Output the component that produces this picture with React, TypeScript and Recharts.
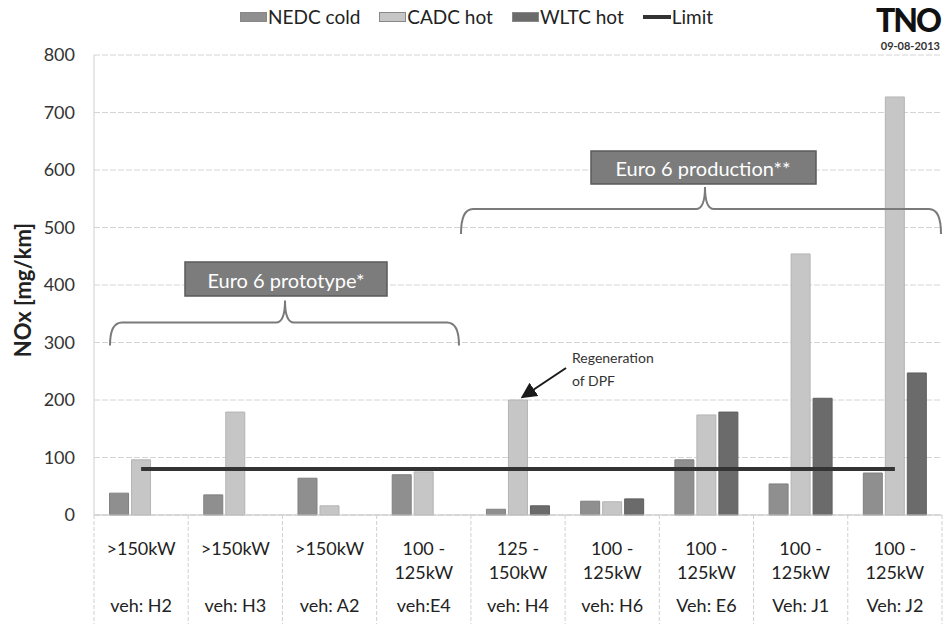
import React from "react";
import {
  Bar,
  CartesianGrid,
  ComposedChart,
  Line,
  XAxis,
  YAxis,
} from "recharts";

const categories = ["H2", "H3", "A2", "E4", "H4", "H6", "E6", "J1", "J2"];
const powerTop = [">150kW", ">150kW", ">150kW", "100 -", "125 -", "100 -", "100 -", "100 -", "100 -"];
const powerBottom = ["", "", "", "125kW", "150kW", "125kW", "125kW", "125kW", "125kW"];
const vehicleLabels = ["veh: H2", "veh: H3", "veh: A2", "veh:E4", "veh: H4", "veh: H6", "Veh: E6", "Veh: J1", "Veh: J2"];

const nedcCold = [38, 35, 64, 70, 10, 24, 96, 54, 73];
const cadcHot = [96, 179, 16, 75, 200, 23, 174, 454, 727];
const wltcHot: (number | null)[] = [null, null, null, null, 16, 28, 179, 203, 247];
const limitValue = [80, 80, 80, 80, 80, 80, 80, 80, 80];

const yTicks = [0, 100, 200, 300, 400, 500, 600, 700, 800];

const FONT = "Lato, 'Open Sans', sans-serif";
const W = 943;
const H = 624;
const PLOT_LEFT = 94;
const PLOT_RIGHT = 942;
const PLOT_TOP = 55;
const PLOT_BOTTOM = 515;
const Y_MAX = 800;
const BAND = (PLOT_RIGHT - PLOT_LEFT) / categories.length;

const COLORS = {
  nedc: "#8f8f8f",
  cadc: "#c6c6c6",
  wltc: "#6b6b6b",
  limit: "#333333",
};

const data = categories.map((c, i) => ({
  cat: c,
  nedc: nedcCold[i],
  cadc: cadcHot[i],
  wltc: wltcHot[i],
  limit: limitValue[i],
}));

// value -> pixel, for the annotation overlay only
const yOf = (v: number) => PLOT_BOTTOM - (v / Y_MAX) * (PLOT_BOTTOM - PLOT_TOP);

function CategoryTick(props: any) {
  const { x, payload } = props;
  const i = payload.index;
  const left = x - BAND / 2;
  const right = x + BAND / 2;
  return (
    <g fontFamily={FONT} fontSize={18} fill="#222">
      <line x1={left} x2={left} y1={PLOT_BOTTOM} y2={H} stroke="#d0d0d0" strokeDasharray="4 2" />
      {i === categories.length - 1 && (
        <line x1={right} x2={right} y1={PLOT_BOTTOM} y2={H} stroke="#d0d0d0" strokeDasharray="4 2" />
      )}
      <text x={x} y={548} textAnchor="middle" dominantBaseline="central" fill="#222">
        {powerTop[i]}
      </text>
      {powerBottom[i] && (
        <text x={x} y={572} textAnchor="middle" dominantBaseline="central" fill="#222">
          {powerBottom[i]}
        </text>
      )}
      <text x={x} y={605} textAnchor="middle" dominantBaseline="central" fill="#222">
        {vehicleLabels[i]}
      </text>
    </g>
  );
}

const legendItems = [
  { label: "NEDC cold", color: COLORS.nedc, kind: "bar" },
  { label: "CADC hot", color: COLORS.cadc, kind: "bar" },
  { label: "WLTC hot", color: COLORS.wltc, kind: "bar" },
  { label: "Limit", color: COLORS.limit, kind: "line" },
];

function Legend() {
  return (
    <div
      style={{
        position: "absolute",
        left: 240,
        top: 5,
        display: "flex",
        alignItems: "center",
        gap: 19,
        fontFamily: FONT,
        fontSize: 19,
        color: "#222",
      }}
    >
      {legendItems.map((it) => (
        <div key={it.label} style={{ display: "flex", alignItems: "center" }}>
          {it.kind === "bar" ? (
            <span style={{ width: 27, height: 10, background: it.color, border: "1px solid #888", boxSizing: "border-box" }} />
          ) : (
            <span style={{ width: 28, height: 4, background: it.color }} />
          )}
          <span style={{ marginLeft: 1 }}>{it.label}</span>
        </div>
      ))}
    </div>
  );
}

function Annotations() {
  const protoY = yOf(335);
  const prodY = yOf(532);
  return (
    <svg width={W} height={H} style={{ position: "absolute", left: 0, top: 0, pointerEvents: "none" }}>
      <defs>
        <marker id="arrow" markerWidth="8" markerHeight="8" refX="6" refY="4" orient="auto">
          <path d="M0,0 L8,4 L0,8 z" fill="#1a1a1a" />
        </marker>
      </defs>
      {/* prototype bracket */}
      <path
        d={`M110,${protoY + 23} Q110,${protoY} 122,${protoY} L276,${protoY} Q285,${protoY} 285,${protoY - 22} Q285,${protoY} 294,${protoY} L447,${protoY} Q459,${protoY} 459,${protoY + 23}`}
        fill="none"
        stroke="#7a7a7a"
        strokeWidth={2}
      />
      <rect x={185} y={262} width={202} height={34} fill="#7c7c7c" stroke="#5a5a5a" strokeWidth={1.5} />
      <text x={286} y={280} textAnchor="middle" dominantBaseline="central" fill="#fff" fontFamily={FONT} fontSize={20}>
        Euro 6 prototype*
      </text>
      {/* production bracket */}
      <path
        d={`M461,${prodY + 25} Q461,${prodY} 473,${prodY} L696,${prodY} Q705,${prodY} 705,${prodY - 22} Q705,${prodY} 714,${prodY} L929,${prodY} Q941,${prodY} 941,${prodY + 25}`}
        fill="none"
        stroke="#7a7a7a"
        strokeWidth={2}
      />
      <rect x={591} y={151} width={225} height={33} fill="#7c7c7c" stroke="#5a5a5a" strokeWidth={1.5} />
      <text x={703} y={168} textAnchor="middle" dominantBaseline="central" fill="#fff" fontFamily={FONT} fontSize={20}>
        Euro 6 production**
      </text>
      {/* DPF note */}
      <text x={572} y={357} dominantBaseline="central" fill="#333" fontFamily={FONT} fontSize={14}>
        Regeneration
      </text>
      <text x={572} y={380} dominantBaseline="central" fill="#333" fontFamily={FONT} fontSize={14}>
        of DPF
      </text>
      <line x1={566} y1={368} x2={524} y2={396} stroke="#1a1a1a" strokeWidth={2} markerEnd="url(#arrow)" />
      {/* y axis title */}
      <text
        x={22}
        y={290}
        transform="rotate(-90 22 290)"
        textAnchor="middle"
        dominantBaseline="central"
        fill="#222"
        fontFamily={FONT}
        fontWeight={700}
        fontSize={22}
      >
        NOx [mg/km]
      </text>
      {/* logo */}
      <text x={940} y={32} textAnchor="end" fill="#111" fontFamily={FONT} fontWeight={900} fontSize={32} letterSpacing={-2}>
        TNO
      </text>
      <text x={940} y={50} textAnchor="end" fill="#333" fontFamily={FONT} fontWeight={700} fontSize={11}>
        09-08-2013
      </text>
    </svg>
  );
}

export default function App() {
  return (
    <div style={{ position: "absolute", left: 0, top: 0, width: W, height: H, background: "#fff" }}>
      <ComposedChart
        width={W}
        height={H}
        data={data}
        margin={{ top: PLOT_TOP, right: W - PLOT_RIGHT, left: 0, bottom: 0 }}
        barCategoryGap="16.5%"
        barGap={3}
      >
        <CartesianGrid vertical={false} stroke="#d4d4d4" strokeDasharray="6 2" />
        <XAxis
          dataKey="cat"
          height={H - PLOT_BOTTOM}
          tickLine={false}
          axisLine={{ stroke: "#c4c4c4" }}
          interval={0}
          tick={<CategoryTick />}
        />
        <YAxis
          width={PLOT_LEFT}
          domain={[0, Y_MAX]}
          ticks={yTicks}
          tickLine={false}
          axisLine={{ stroke: "#cfcfcf" }}
          tickMargin={13}
          tick={{ fontSize: 18, fill: "#333", fontFamily: FONT }}
        />
        <Bar dataKey="nedc" fill={COLORS.nedc} stroke="#808080" isAnimationActive={false} />
        <Bar dataKey="cadc" fill={COLORS.cadc} stroke="#b4b4b4" isAnimationActive={false} />
        <Bar dataKey="wltc" fill={COLORS.wltc} stroke="#5e5e5e" isAnimationActive={false} />
        <Line
          type="linear"
          dataKey="limit"
          stroke={COLORS.limit}
          strokeWidth={4}
          dot={false}
          isAnimationActive={false}
        />
      </ComposedChart>
      <Annotations />
      <Legend />
    </div>
  );
}
